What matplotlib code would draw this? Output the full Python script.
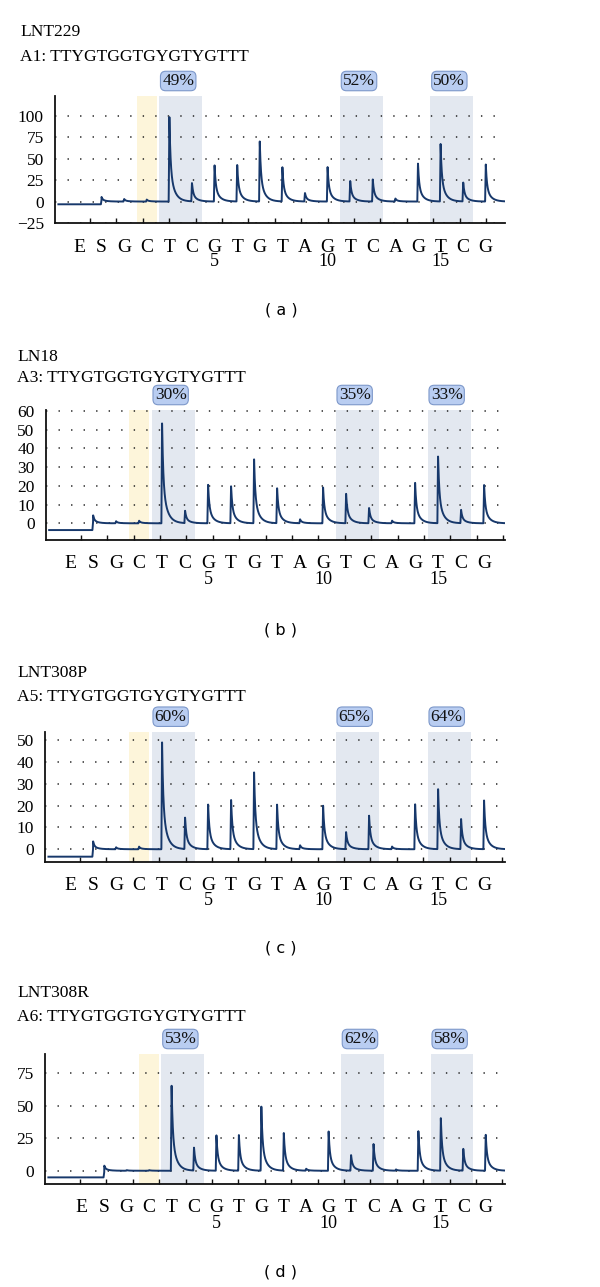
import numpy as np
import matplotlib
matplotlib.use("Agg")
import matplotlib.pyplot as plt

plt.rcParams['font.family'] = ['Liberation Serif', 'DejaVu Serif']

# ---------------- data ----------------
dispensation = ['E', 'S', 'G', 'C', 'T', 'C', 'G', 'T', 'G', 'T', 'A',
                'G', 'T', 'C', 'A', 'G', 'T', 'C', 'G']
disp_pos = list(range(-1, 18))          # E=-1, S=0, then 1..17
number_ticks = [5, 10, 15]

sample_names = ['LNT229', 'LN18', 'LNT308P', 'LNT308R']
assay_labels = ['A1: TTYGTGGTGYGTYGTTT', 'A3: TTYGTGGTGYGTYGTTT',
                'A5: TTYGTGGTGYGTYGTTT', 'A6: TTYGTGGTGYGTYGTTT']
panel_letters = ['( a )', '( b )', '( c )', '( d )']

# peak heights at S, 1..17
peaks_a = [5.4, 3.0, 2.3, 100, 21.8, 42.4, 43.6, 70, 40.5, 10, 40.5, 24.5, 25.7, 3.5, 45, 67.7, 22.6, 43.2]
peaks_b = [4.4, 1.1, 1.4, 54, 6.6, 21, 20, 34.3, 19, 2.1, 19.2, 16, 8.3, 1.4, 22, 36.4, 7.1, 20.8]
peaks_c = [3.7, 0.9, 1.2, 49, 14.6, 21, 22.9, 35.4, 20.4, 1.8, 20.4, 7.9, 15.4, 1.2, 21.2, 28, 13.9, 22.3]
peaks_d = [4.1, 0.5, 0.5, 67.3, 18, 27.2, 27.7, 50.3, 29.8, 1.5, 30.3, 12.1, 21, 1.0, 30.8, 40.6, 17, 28.3]
baseline_start = [-3.2, -3.6, -3.4, -5.1]

pct_a = ['49%', '52%', '50%']
pct_b = ['30%', '35%', '33%']
pct_c = ['60%', '65%', '64%']
pct_d = ['53%', '62%', '58%']
cpg_pos = [3, 11, 15]       # T/C variable positions (region start)
control_pos = 2             # bisulfite control C

yticks_a = [-25, 0, 25, 50, 75, 100]
yticks_b = [0, 10, 20, 30, 40, 50, 60]
yticks_c = [0, 10, 20, 30, 40, 50]
yticks_d = [0, 25, 50, 75]

# ---------------- layout ----------------
W, H = 600, 1287
fig = plt.figure(figsize=(W / 100, H / 100), dpi=100)

panels = [
    dict(box=(55, 505, 96, 223), xlim=(-2.06, 17.85), ylim=(-25, 123), peaks=peaks_a,
         pct=pct_a, yt=yticks_a, title_x=20, title_y=(32, 57), lab_y=310),
    dict(box=(45.7, 505, 410, 540), xlim=(-2.06, 17.91), ylim=(-8.9, 60.4), peaks=peaks_b,
         pct=pct_b, yt=yticks_b, title_x=17, title_y=(357, 378), lab_y=630),
    dict(box=(45, 505, 731.7, 861.7), xlim=(-2.09, 17.91), ylim=(-5.7, 53.8), peaks=peaks_c,
         pct=pct_c, yt=yticks_c, title_x=17, title_y=(673, 697), lab_y=948),
    dict(box=(45, 505, 1054, 1184), xlim=(-2.64, 17.86), ylim=(-10.2, 89.9), peaks=peaks_d,
         pct=pct_d, yt=yticks_d, title_x=17, title_y=(993, 1017), lab_y=1272),
]

line_color = '#17386b'
blue_fill = '#e3e8f0'
yellow_fill = '#fdf5da'

for i, p in enumerate(panels):
    l, r, t, b = p['box']
    ax = fig.add_axes([l / W, 1 - b / H, (r - l) / W, (b - t) / H])
    ax.set_xlim(*p['xlim'])
    ax.set_ylim(*p['ylim'])

    # shaded regions
    ax.axvspan(control_pos - 0.45, control_pos + 0.45, color=yellow_fill, lw=0, zorder=0)
    for pos, txt in zip(cpg_pos, p['pct']):
        ax.axvspan(pos - 0.45, pos + 1.45, color=blue_fill, lw=0, zorder=0)
        ax.annotate(txt, xy=(pos - 0.45, 1), xycoords=('data', 'axes fraction'),
                    xytext=(3, 7), textcoords='offset pixels', ha='left', va='bottom',
                    fontsize=12.5, color='#111111',
                    bbox=dict(boxstyle='round,pad=0.1,rounding_size=0.3',
                              fc='#b9cdf1', ec='#7d98ca', lw=0.8),
                    annotation_clip=False)

    # dotted grid
    for yv in p['yt']:
        ax.axhline(yv, color='#222222', lw=1.1, ls=(0, (0.9, 7.3)), zorder=1)

    # pyrogram trace
    x = np.linspace(p['xlim'][0] + 0.15, p['xlim'][1], 6000)
    y = np.where(x < 0, baseline_start[i], 0.0)
    for pos, h in zip(range(0, 18), p['peaks']):
        d = x - pos
        y = y + np.where(d >= 0, h * (0.6 * np.exp(-d / 0.05) + 0.4 * np.exp(-d / 0.2)), 0.0)
        rise = (d > -0.03) & (d < 0)
        y = y + np.where(rise, h * (1 + d / 0.03), 0.0)
    ax.plot(x, y, color=line_color, lw=1.4, zorder=3)

    # axes style
    for s in ['top', 'right']:
        ax.spines[s].set_visible(False)
    for s in ['left', 'bottom']:
        ax.spines[s].set_linewidth(1.3)
        ax.spines[s].set_color('#111111')
    ax.set_yticks(p['yt'])
    ax.set_yticklabels([str(v).replace('-', '\u2212') for v in p['yt']], fontsize=12.5)
    ax.tick_params(axis='y', length=0, pad=8)

    # bottom tick marks (instrument time ticks)
    px_per_unit = (r - l) / (p['xlim'][1] - p['xlim'][0])
    start = p['xlim'][0] + 35 / px_per_unit
    step = 26.4 / px_per_unit
    ax.set_xticks(np.arange(start, p['xlim'][1], step))
    ax.set_xticklabels([])
    ax.tick_params(axis='x', direction='in', length=3.5, width=1.0, color='#111111')

    # dispensation letters and numbering
    for xp, letter in zip(disp_pos, dispensation):
        ax.annotate(letter, xy=(xp, 0), xycoords=('data', 'axes fraction'),
                    xytext=(0, -24), textcoords='offset pixels', ha='center', va='center',
                    fontsize=14, annotation_clip=False)
    for n in number_ticks:
        ax.annotate(str(n), xy=(n, 0), xycoords=('data', 'axes fraction'),
                    xytext=(0, -39), textcoords='offset pixels', ha='center', va='center',
                    fontsize=13, annotation_clip=False)

    # titles
    fig.text(p['title_x'] / W, 1 - p['title_y'][0] / H, sample_names[i],
             fontsize=12.6, ha='left', va='center')
    fig.text(p['title_x'] / W, 1 - p['title_y'][1] / H, assay_labels[i],
             fontsize=12.6, ha='left', va='center')
    fig.text(281 / W, 1 - p['lab_y'] / H, panel_letters[i], fontsize=11.5,
             family='DejaVu Sans', ha='center', va='center')

fig.savefig('out.png', dpi=100, facecolor='white')
